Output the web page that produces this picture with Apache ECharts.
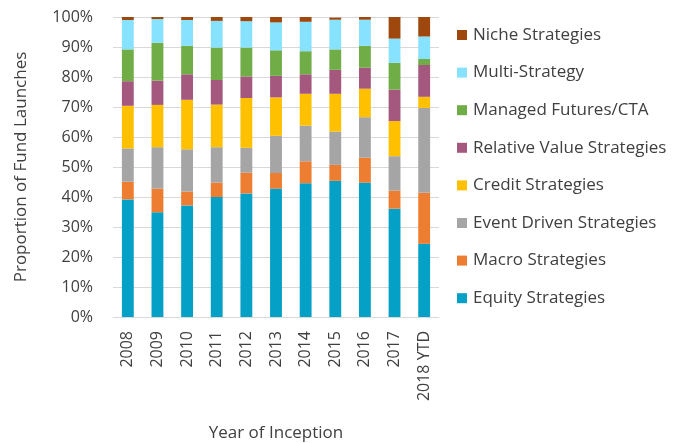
<!DOCTYPE html>
<html>
<head>
<meta charset="utf-8">
<script src="https://cdn.jsdelivr.net/npm/echarts@6/dist/echarts.min.js"></script>
<style>
  html, body { margin: 0; padding: 0; background: #fff; }
  #chart { width: 688px; height: 443px; }
</style>
</head>
<body>
<div id="chart"></div>
<script>
var years = ["2008","2009","2010","2011","2012","2013","2014","2015","2016","2017","2018 YTD"];

// shares in %
var equity   = [39.2, 34.9, 37.2, 40.0, 41.2, 42.8, 44.6, 45.4, 44.8, 36.1, 24.4];
var macro    = [ 5.9,  7.9,  4.6,  4.8,  6.9,  5.2,  7.3,  5.3,  8.3,  6.0, 17.0];
var eventDr  = [11.1, 13.8, 14.1, 11.8,  8.3, 12.4, 11.9, 11.1, 13.5, 11.5, 28.3];
var credit   = [14.2, 14.1, 16.5, 14.2, 16.6, 12.8, 10.6, 12.6,  9.5, 11.7,  3.7];
var relValue = [ 8.2,  8.1,  8.5,  8.2,  7.2,  7.2,  6.5,  8.0,  7.0, 10.5, 10.6];
var managed  = [10.6, 12.6,  9.5, 10.8,  9.6,  8.5,  7.7,  6.8,  7.3,  8.9,  2.0];
var multi    = [ 9.8,  7.9,  8.6,  8.9,  8.8,  9.3,  9.8,  9.9,  8.7,  8.1,  7.5];
var niche    = [ 1.0,  0.7,  1.0,  1.3,  1.4,  1.8,  1.6,  0.7,  0.9,  7.2,  7.7];

var seriesDefs = [
  {name: "Equity Strategies", data: equity, color: "#04A0C6"},
  {name: "Macro Strategies", data: macro, color: "#ED7D31"},
  {name: "Event Driven Strategies", data: eventDr, color: "#A5A5A5"},
  {name: "Credit Strategies", data: credit, color: "#FFC000"},
  {name: "Relative Value Strategies", data: relValue, color: "#A5587E"},
  {name: "Managed Futures/CTA", data: managed, color: "#70AD47"},
  {name: "Multi-Strategy", data: multi, color: "#87E2FF"},
  {name: "Niche Strategies", data: niche, color: "#9E480E"}
];

var font = "Open Sans";
var textCol = "#404040";

var chart = echarts.init(document.getElementById("chart"));

var option = {
  animation: false,
  textStyle: {fontFamily: font},
  grid: {left: 113, right: 249, top: 17, bottom: 126, containLabel: false, outerBoundsMode: "none"},
  legend: {
    orient: "vertical",
    left: 452,
    top: 20,
    itemWidth: 10,
    itemHeight: 10,
    itemGap: 17.6,
    icon: "rect",
    data: seriesDefs.map(function (s) { return s.name; }).reverse(),
    textStyle: {fontFamily: font, fontSize: 17, color: textCol, lineHeight: 20, padding: [0, 0, 0, 1]}
  },
  xAxis: {
    type: "category",
    data: years,
    name: "Year of Inception",
    nameLocation: "middle",
    nameGap: 108,
    nameTextStyle: {fontFamily: font, fontSize: 17, color: textCol},
    axisLine: {lineStyle: {color: "#d9d9d9"}},
    axisTick: {show: false},
    axisLabel: {rotate: 90, margin: 14, fontFamily: font, fontSize: 16, color: textCol}
  },
  yAxis: {
    type: "value",
    min: 0,
    max: 100,
    interval: 10,
    name: "Proportion of Fund Launches",
    nameLocation: "middle",
    nameGap: 83,
    nameTextStyle: {fontFamily: font, fontSize: 17, color: textCol},
    axisLine: {show: false},
    axisTick: {show: false},
    axisLabel: {formatter: "{value}%", margin: 20, fontFamily: font, fontSize: 16, color: textCol},
    splitLine: {lineStyle: {color: "#d9d9d9"}}
  },
  series: seriesDefs.map(function (s) {
    return {
      name: s.name,
      type: "bar",
      stack: "total",
      barWidth: "40%",
      data: s.data,
      itemStyle: {color: s.color}
    };
  })
};

chart.setOption(option);
</script>
</body>
</html>
